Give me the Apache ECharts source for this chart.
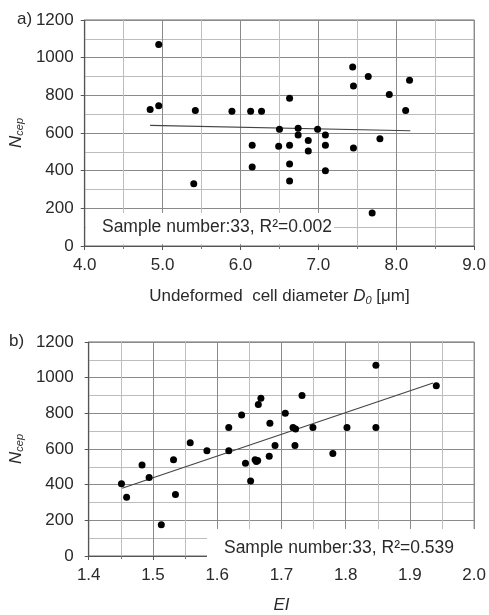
<!DOCTYPE html>
<html>
<head>
<meta charset="utf-8">
<script src="https://cdn.jsdelivr.net/npm/echarts@6/dist/echarts.min.js"></script>
<style>
  html, body { margin: 0; padding: 0; background: #fff; }
  #main { width: 489px; height: 615px; }
</style>
</head>
<body>
<div id="main"></div>
<script>
// a) undeformed cell diameter D0 vs Ncep
const diameterX = [4.84, 4.95, 4.95, 5.42, 5.89, 6.13, 6.27, 6.50, 6.63, 6.74, 6.74,
  6.87, 6.99, 7.09, 7.44, 7.45, 7.64, 7.91, 8.17, 8.12, 7.79, 7.45, 6.15, 6.49,
  6.63, 6.87, 7.09, 6.15, 6.63, 7.09, 5.40, 6.63, 7.69];
const diameterN = [725, 1070, 745, 720, 715, 715, 715, 620, 785, 625, 590,
  560, 620, 590, 950, 850, 900, 805, 880, 720, 570, 520, 535, 530,
  535, 505, 535, 420, 435, 400, 330, 345, 175];
const diameterFitX = [4.84, 8.18];
const diameterFitN = [640, 612];

// b) EI vs Ncep
const eiX = [1.847, 1.941, 1.668, 1.664, 1.732, 1.638, 1.706, 1.682, 1.618, 1.718, 1.722,
  1.749, 1.802, 1.847, 1.558, 1.584, 1.618, 1.690, 1.721, 1.780, 1.681, 1.659,
  1.663, 1.644, 1.532, 1.483, 1.494, 1.451, 1.459, 1.652, 1.535, 1.513, 1.661];
const eiN = [1070, 955, 885, 850, 900, 790, 800, 745, 720, 720, 712,
  720, 720, 720, 635, 590, 590, 620, 620, 575, 560, 540,
  535, 520, 540, 510, 440, 405, 330, 420, 345, 175, 530];
const eiFitX = [1.452, 1.936];
const eiFitN = [380, 970];

const noteA = 'Sample number:33, R²=0.002';
const noteB = 'Sample number:33, R²=0.539';

const font = 'Liberation Sans, Arial, sans-serif';
const txt = '#2a2a2a';

function pairs(xs, ys) {
  return xs.map((x, i) => [x, ys[i]]);
}

function xAxisOf(idx, min, max, step, name, gap, rich) {
  return {
    gridIndex: idx, type: 'value', min: min, max: max, interval: step,
    name: name, nameLocation: 'middle', nameGap: gap,
    nameTextStyle: { color: txt, fontSize: 17, fontFamily: font, rich: rich },
    axisLine: { onZero: false, lineStyle: { color: '#555', width: 1.2 } },
    axisTick: { show: true, length: 4, lineStyle: { color: '#555' } },
    minorTick: { show: true, splitNumber: 2, length: 3, lineStyle: { color: '#777' } },
    axisLabel: { color: txt, fontSize: 17, fontFamily: font, margin: 11,
      formatter: v => v.toFixed(1) },
    splitLine: { show: true, lineStyle: { color: '#8a8a8a', width: 1 } },
    minorSplitLine: { show: true, lineStyle: { color: '#bdbdbd', width: 1 } }
  };
}

function yAxisOf(idx, gap, margin) {
  return {
    gridIndex: idx, type: 'value', min: 0, max: 1200, interval: 200,
    name: '{i|N}{s|cep}', nameLocation: 'middle', nameGap: gap, nameRotate: 90,
    nameTextStyle: {
      rich: {
        i: { fontSize: 17, fontStyle: 'italic', color: txt, fontFamily: font },
        s: { fontSize: 11, fontStyle: 'italic', color: txt, fontFamily: font, verticalAlign: 'bottom', padding: [6, 0, 0, 0] }
      }
    },
    axisLine: { show: true, lineStyle: { color: '#555', width: 1.2 } },
    axisTick: { show: true, length: 4, lineStyle: { color: '#555' } },
    minorTick: { show: false, splitNumber: 2 },
    axisLabel: { color: txt, fontSize: 17, fontFamily: font, margin: margin,
      formatter: v => String(v) },
    splitLine: { show: true, lineStyle: { color: '#8a8a8a', width: 1 } },
    minorSplitLine: { show: true, lineStyle: { color: '#bdbdbd', width: 1 } }
  };
}

const chart = echarts.init(document.getElementById('main'));
chart.setOption({
  backgroundColor: '#fff',
  animation: false,
  grid: [
    { left: 82, right: 11, top: 20, height: 226, show: true, borderColor: '#666', borderWidth: 1 },
    { left: 86, right: 11, top: 342, height: 225, show: true, borderColor: '#666', borderWidth: 1 }
  ],
  xAxis: [
    xAxisOf(0, 4, 9, 1, 'Undeformed  cell diameter {i|D}{o|0} [μm]', 41, {
      i: { fontSize: 17, fontStyle: 'italic', color: txt, fontFamily: font },
      o: { fontSize: 11, fontStyle: 'italic', color: txt, fontFamily: font, verticalAlign: 'top', padding: [8, 0, 0, 0] }
    }),
    xAxisOf(1, 1.4, 2.0, 0.1, '{i|EI}', 41, {
      i: { fontSize: 17, fontStyle: 'italic', color: txt, fontFamily: font }
    })
  ],
  yAxis: [yAxisOf(0, 58, 11), yAxisOf(1, 62, 15)],
  graphic: [
    { type: 'text', left: 17, top: 11, style: { text: 'a)', fill: txt, font: '17px ' + font } },
    { type: 'text', left: 9, top: 333, style: { text: 'b)', fill: txt, font: '17px ' + font } },
    { type: 'rect', shape: { x: 86, y: 213, width: 248, height: 31 }, style: { fill: '#fff' }, z: 10 },
    { type: 'text', x: 217, y: 227, z: 11, style: { text: noteA, fill: txt, font: '17.5px ' + font, align: 'center', verticalAlign: 'middle' } },
    { type: 'rect', shape: { x: 207, y: 529, width: 269, height: 36 }, style: { fill: '#fff' }, z: 10 },
    { type: 'text', x: 339, y: 548, z: 11, style: { text: noteB, fill: txt, font: '17.5px ' + font, align: 'center', verticalAlign: 'middle' } }
  ],
  series: [
    { type: 'scatter', xAxisIndex: 0, yAxisIndex: 0, symbolSize: 7,
      itemStyle: { color: '#000', opacity: 1 }, data: pairs(diameterX, diameterN), z: 5 },
    { type: 'line', xAxisIndex: 0, yAxisIndex: 0, symbol: 'none',
      lineStyle: { color: '#444', width: 1.2 }, data: pairs(diameterFitX, diameterFitN), z: 4 },
    { type: 'scatter', xAxisIndex: 1, yAxisIndex: 1, symbolSize: 7,
      itemStyle: { color: '#000', opacity: 1 }, data: pairs(eiX, eiN), z: 5 },
    { type: 'line', xAxisIndex: 1, yAxisIndex: 1, symbol: 'none',
      lineStyle: { color: '#444', width: 1.2 }, data: pairs(eiFitX, eiFitN), z: 4 }
  ]
});
</script>
</body>
</html>
